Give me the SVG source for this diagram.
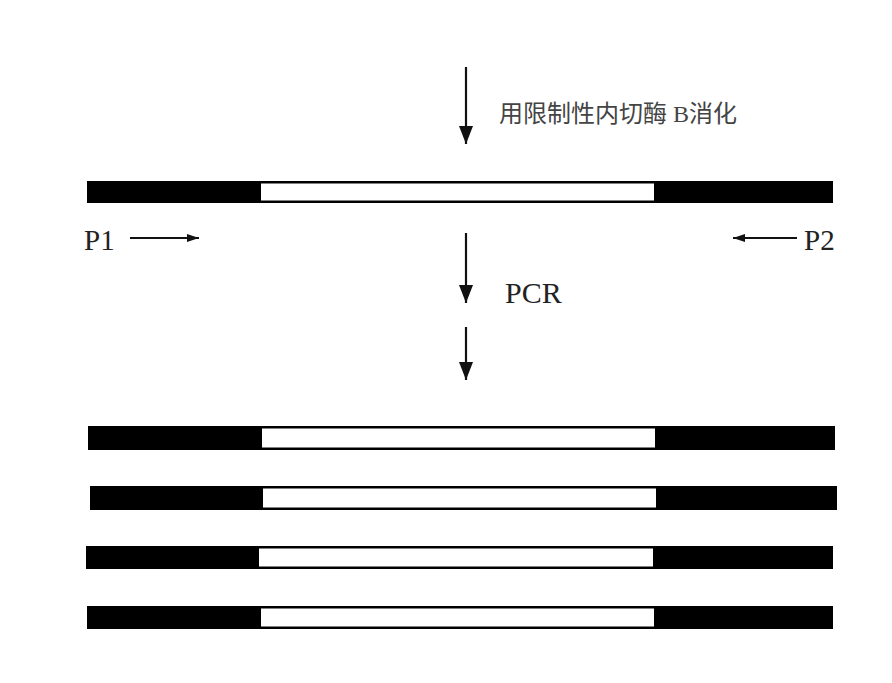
<svg xmlns="http://www.w3.org/2000/svg" width="892" height="683" viewBox="0 0 892 683">
  <defs>
    <style>
      .blk { fill: #000; }
      .wht { fill: #fff; }
      .arr { stroke: #111; stroke-width: 2.2; fill: none; }
      .arr-s { stroke: #111; stroke-width: 1.8; fill: none; }
      .lbl { font-family: "Liberation Serif", "Times New Roman", serif; fill: #222; }
      .cjk { font-family: "Liberation Serif", "Noto Sans CJK SC", serif; fill: #444; font-size: 24px; }
    </style>
    <marker id="headBig" viewBox="0 0 18 14" refX="18" refY="7" markerWidth="18" markerHeight="14" markerUnits="userSpaceOnUse" orient="auto">
      <path d="M0,0 L18,7 L0,14 Z" fill="#111"/>
    </marker>
    <marker id="headSmall" viewBox="0 0 12 8" refX="12" refY="4" markerWidth="12" markerHeight="8" markerUnits="userSpaceOnUse" orient="auto">
      <path d="M0,0 L12,4 L0,8 Z" fill="#111"/>
    </marker>
  </defs>
  <rect width="892" height="683" fill="#fff"/>

  <g id="template-dna">
    <rect class="blk" x="87" y="181" width="746" height="22"/>
    <rect class="wht" x="261" y="183.5" width="393" height="17"/>
  </g>

  <g id="product-1">
    <rect class="blk" x="88" y="426" width="747" height="24"/>
    <rect class="wht" x="262" y="428.5" width="393" height="19"/>
  </g>
  <g id="product-2">
    <rect class="blk" x="90" y="486" width="747" height="24"/>
    <rect class="wht" x="263" y="488.5" width="393" height="19"/>
  </g>
  <g id="product-3">
    <rect class="blk" x="86" y="546" width="747" height="23"/>
    <rect class="wht" x="259" y="548.5" width="394" height="18"/>
  </g>
  <g id="product-4">
    <rect class="blk" x="87" y="606" width="746" height="23"/>
    <rect class="wht" x="261" y="608.5" width="393" height="18"/>
  </g>

  <g id="labels">
    <text class="cjk" x="499" y="122">用限制性内切酶 B消化</text>
    <text class="lbl" x="84" y="250" font-size="29">P1</text>
    <text class="lbl" x="804" y="250" font-size="29">P2</text>
    <text class="lbl" x="505" y="303" font-size="30">PCR</text>
  </g>

  <g id="connectors">
    <line class="arr" x1="466" y1="67" x2="466" y2="144" marker-end="url(#headBig)"/>
    <line class="arr" x1="466" y1="233" x2="466" y2="303" marker-end="url(#headBig)"/>
    <line class="arr" x1="466" y1="327" x2="466" y2="380" marker-end="url(#headBig)"/>
    <line class="arr-s" x1="130" y1="238" x2="199" y2="238" marker-end="url(#headSmall)"/>
    <line class="arr-s" x1="797" y1="238" x2="733" y2="238" marker-end="url(#headSmall)"/>
  </g>
</svg>
